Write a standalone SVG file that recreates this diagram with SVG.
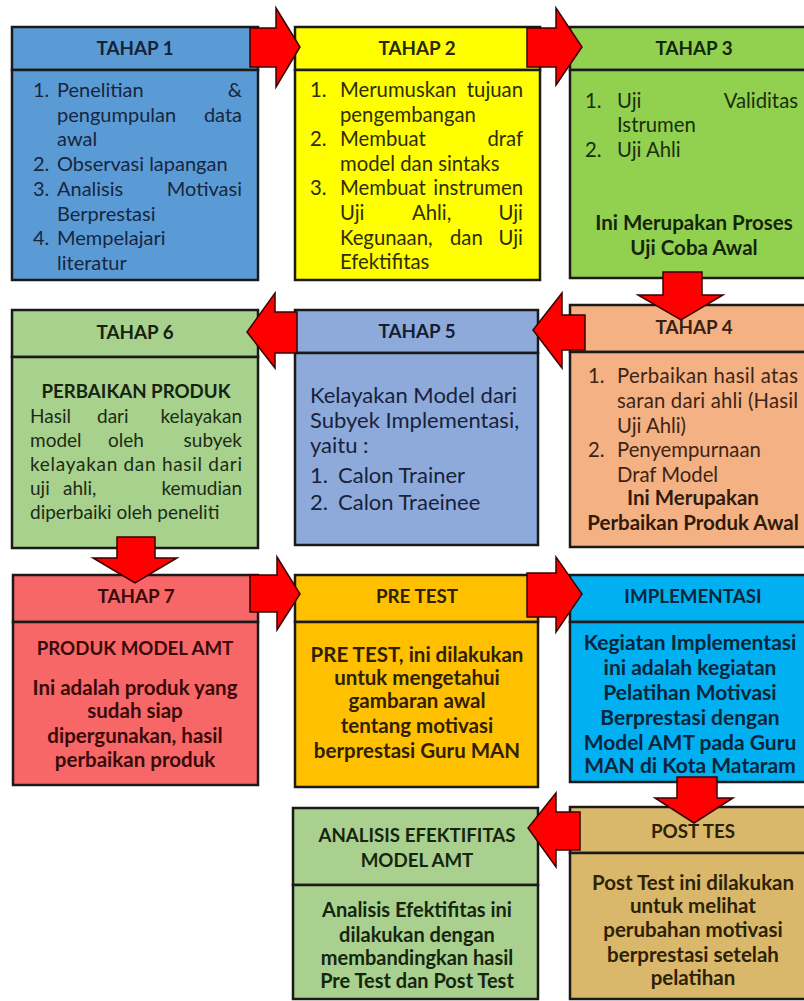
<svg xmlns="http://www.w3.org/2000/svg" width="804" height="1001" viewBox="0 0 804 1001">
<style>
.bx{stroke:#1a1a1a;stroke-width:2.5}
.h{font-family:Lato,'Open Sans',sans-serif;font-weight:700;font-size:18.8px;text-anchor:middle}
.t{font-family:Lato,'Open Sans',sans-serif;font-size:20.3px}
.tb{font-family:Lato,'Open Sans',sans-serif;font-size:20.5px;font-weight:700;text-anchor:middle}
.cap{font-size:18.7px}
.e{text-anchor:end}
.arr{fill:#ff0000;stroke:#3a0000;stroke-width:1.5;stroke-linejoin:miter}
</style>
<rect width="804" height="1001" fill="#ffffff"/>

<g id="tahap1">
<rect class="bx" x="12" y="27" width="246" height="43" fill="#5b9bd5"/>
<rect class="bx" x="12" y="70" width="246" height="210" fill="#5b9bd5"/>
<text class="h" x="135" y="55" fill="#15233a">TAHAP 1</text>
<g class="t" fill="#17263f" style="font-size:20px">
<text x="33" y="97">1.</text><text x="57" y="97">Penelitian</text><text class="e" x="242" y="97">&amp;</text>
<text x="57" y="121.7">pengumpulan</text><text class="e" x="242" y="121.7">data</text>
<text x="57" y="146.4">awal</text>
<text x="33" y="171">2.</text><text x="57" y="171">Observasi lapangan</text>
<text x="33" y="195.8">3.</text><text x="57" y="195.8">Analisis</text><text class="e" x="242" y="195.8">Motivasi</text>
<text x="57" y="220.5">Berprestasi</text>
<text x="33" y="245">4.</text><text x="57" y="245">Mempelajari</text>
<text x="57" y="270">literatur</text>
</g>
</g>

<g id="tahap2">
<rect class="bx" x="295" y="27" width="245" height="43" fill="#ffff00"/>
<rect class="bx" x="295" y="70" width="245" height="210" fill="#ffff00"/>
<text class="h" x="417" y="55" fill="#2a2a00">TAHAP 2</text>
<g class="t" fill="#2e2e05">
<text x="310" y="97">1.</text><text x="340" y="97">Merumuskan</text><text class="e" x="523" y="97">tujuan</text>
<text x="340" y="121.5">pengembangan</text>
<text x="310" y="146">2.</text><text x="340" y="146">Membuat</text><text class="e" x="523" y="146">draf</text>
<text x="340" y="170.5">model dan sintaks</text>
<text x="310" y="195">3.</text><text x="340" y="195">Membuat</text><text class="e" x="523" y="195">instrumen</text>
<text x="340" y="220">Uji</text><text x="412" y="220">Ahli,</text><text class="e" x="523" y="220">Uji</text>
<text x="340" y="244.5">Kegunaan,</text><text x="450" y="244.5">dan</text><text class="e" x="523" y="244.5">Uji</text>
<text x="340" y="269">Efektifitas</text>
</g>
</g>

<g id="tahap3">
<rect class="bx" x="570" y="27" width="240" height="43" fill="#92d050"/>
<rect class="bx" x="570" y="70" width="240" height="208" fill="#92d050"/>
<text class="h" x="694" y="55" fill="#14260a">TAHAP 3</text>
<g class="t" fill="#1a2e0e">
<text x="585" y="108">1.</text><text x="617" y="108">Uji</text><text class="e" x="798" y="108">Validitas</text>
<text x="617" y="132">Istrumen</text>
<text x="585" y="157">2.</text><text x="617" y="157">Uji Ahli</text>
</g>
<g class="tb" fill="#14260a">
<text x="694" y="230">Ini Merupakan Proses</text>
<text x="694" y="255">Uji Coba Awal</text>
</g>
</g>

<g id="tahap4">
<rect class="bx" x="570" y="305" width="240" height="47" fill="#f4b183"/>
<rect class="bx" x="570" y="352" width="240" height="195" fill="#f4b183"/>
<text class="h" x="694" y="334" fill="#3a2010">TAHAP 4</text>
<g class="t" fill="#3e2414">
<text x="588" y="383">1.</text><text x="617" y="383" textLength="181" lengthAdjust="spacing">Perbaikan  hasil  atas</text>
<text x="617" y="408" textLength="181" lengthAdjust="spacing">saran dari ahli (Hasil</text>
<text x="617" y="433">Uji Ahli)</text>
<text x="588" y="457">2.</text><text x="617" y="457">Penyempurnaan</text>
<text x="617" y="482">Draf Model</text>
</g>
<g class="tb" fill="#301a0c">
<text x="693" y="505">Ini Merupakan</text>
<text x="693" y="530">Perbaikan Produk Awal</text>
</g>
</g>

<g id="tahap5">
<rect class="bx" x="295" y="310" width="243" height="43" fill="#8eaadb"/>
<rect class="bx" x="295" y="353" width="243" height="192" fill="#8eaadb"/>
<text class="h" x="417" y="338" fill="#141e34">TAHAP 5</text>
<g class="t" fill="#18223a" style="font-size:22px">
<text x="310" y="403">Kelayakan Model dari</text>
<text x="310" y="428">Subyek Implementasi,</text>
<text x="310" y="453">yaitu :</text>
<text x="310" y="483">1.</text><text x="338" y="483">Calon Trainer</text>
<text x="310" y="510">2.</text><text x="338" y="510">Calon Traeinee</text>
</g>
</g>

<g id="tahap6">
<rect class="bx" x="12" y="310" width="246" height="47" fill="#a9d18e"/>
<rect class="bx" x="12" y="357" width="246" height="191" fill="#a9d18e"/>
<text class="h" x="135" y="339" fill="#142410">TAHAP 6</text>
<text class="tb cap" x="136" y="398" fill="#142410">PERBAIKAN PRODUK</text>
<g class="t" fill="#1a2c14" style="font-size:19px">
<text x="30" y="423">Hasil</text><text x="97" y="423">dari</text><text class="e" x="242" y="423">kelayakan</text>
<text x="30" y="447">model</text><text x="108" y="447">oleh</text><text class="e" x="242" y="447">subyek</text>
<text x="30" y="471" textLength="212" lengthAdjust="spacing">kelayakan dan hasil dari</text>
<text x="30" y="495">uji</text><text x="63" y="495">ahli,</text><text class="e" x="242" y="495">kemudian</text>
<text x="30" y="519">diperbaiki oleh peneliti</text>
</g>
</g>

<g id="tahap7">
<rect class="bx" x="13" y="575" width="245" height="47" fill="#f76767"/>
<rect class="bx" x="13" y="622" width="245" height="163" fill="#f76767"/>
<text class="h" x="136" y="603" fill="#3a0a0a">TAHAP 7</text>
<g class="tb" fill="#3a0a0a">
<text class="cap" x="135" y="655">PRODUK MODEL AMT</text>
<text x="135" y="695">Ini adalah produk yang</text>
<text x="135" y="718">sudah siap</text>
<text x="135" y="743">dipergunakan, hasil</text>
<text x="135" y="767">perbaikan produk</text>
</g>
</g>

<g id="pretest">
<rect class="bx" x="295" y="575" width="243" height="47" fill="#ffc000"/>
<rect class="bx" x="295" y="622" width="243" height="165" fill="#ffc000"/>
<text class="h" x="417" y="603" fill="#2e2000">PRE TEST</text>
<g class="tb" fill="#2e2000">
<text x="417" y="662">PRE TEST, ini dilakukan</text>
<text x="417" y="685">untuk mengetahui</text>
<text x="417" y="708">gambaran awal</text>
<text x="417" y="733">tentang motivasi</text>
<text x="417" y="758">berprestasi Guru MAN</text>
</g>
</g>

<g id="implementasi">
<rect class="bx" x="570" y="575" width="240" height="47" fill="#00b0f0"/>
<rect class="bx" x="570" y="622" width="240" height="160" fill="#00b0f0"/>
<text class="h" x="693" y="603" fill="#08263a">IMPLEMENTASI</text>
<g class="tb" fill="#08263a" style="font-size:21px">
<text x="690" y="650">Kegiatan Implementasi</text>
<text x="690" y="675">ini adalah kegiatan</text>
<text x="690" y="700">Pelatihan Motivasi</text>
<text x="690" y="725">Berprestasi dengan</text>
<text x="690" y="750">Model AMT pada Guru</text>
<text x="690" y="773">MAN di Kota Mataram</text>
</g>
</g>

<g id="analisis">
<rect class="bx" x="293" y="808" width="245" height="77" fill="#a9d08e"/>
<rect class="bx" x="293" y="885" width="245" height="114" fill="#a9d08e"/>
<g class="tb" fill="#16260e">
<text class="cap" x="417" y="842">ANALISIS EFEKTIFITAS</text>
<text class="cap" x="417" y="867">MODEL AMT</text>
<text x="417" y="917" style="font-size:20px">Analisis Efektifitas ini</text>
<text x="417" y="942" style="font-size:20px">dilakukan dengan</text>
<text x="417" y="965" style="font-size:20px">membandingkan hasil</text>
<text x="417" y="988" style="font-size:20px">Pre Test dan Post Test</text>
</g>
</g>

<g id="posttes">
<rect class="bx" x="570" y="807" width="240" height="46" fill="#d9b86b"/>
<rect class="bx" x="570" y="853" width="240" height="146" fill="#d9b86b"/>
<text class="h" x="693" y="838" fill="#2e2206">POST TES</text>
<g class="tb" fill="#2e2206">
<text x="693" y="890">Post Test ini dilakukan</text>
<text x="693" y="913">untuk melihat</text>
<text x="693" y="937">perubahan motivasi</text>
<text x="693" y="962">berprestasi setelah</text>
<text x="693" y="985">pelatihan</text>
</g>
</g>

<g id="connectors">
<polygon class="arr" points="250,28 276,28 276,8 300,47 276,87 276,67 250,67"/>
<polygon class="arr" points="527,28 556,28 556,8 582,47 556,85 556,67 527,67"/>
<polygon class="arr" points="663,272 702,272 702,295 723,295 681,320 638,295 663,295"/>
<polygon class="arr" points="585,315 562,315 562,293 533,330 562,368 562,350 585,350"/>
<polygon class="arr" points="297,312 275,312 275,293 247,332 275,368 275,353 297,353"/>
<polygon class="arr" points="117,537 155,537 155,558 177,558 135,583 93,558 117,558"/>
<polygon class="arr" points="250,575 277,575 277,557 300,594 277,630 277,612 250,612"/>
<polygon class="arr" points="527,573 556,573 556,557 582,594 556,632 556,617 527,617"/>
<polygon class="arr" points="677,777 717,777 717,798 733,798 694,823 655,798 677,798"/>
<polygon class="arr" points="580,812 556,812 556,793 528,828 556,867 556,850 580,850"/>
</g>
</svg>
